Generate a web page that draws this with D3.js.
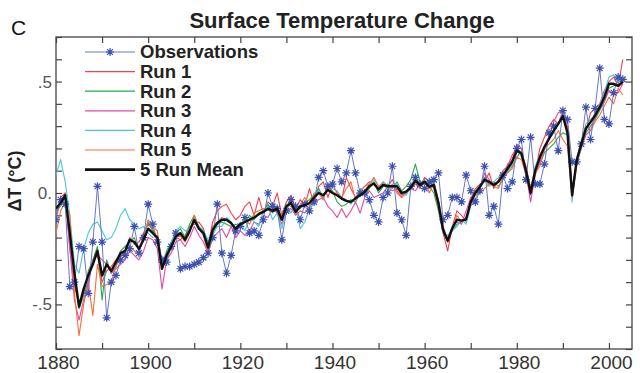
<!DOCTYPE html>
<html>
<head>
<meta charset="utf-8">
<script src="https://cdn.jsdelivr.net/npm/d3@7"></script>
<style>
  html, body { margin: 0; padding: 0; background: #fff; }
  svg { display: block; font-family: "Liberation Sans", Arial, sans-serif; }
</style>
</head>
<body>
<svg id="chart" width="640" height="373"></svg>
<script>
// years 1880..2003, one value per year
const years = d3.range(1880, 2004);

const observations = [
  -0.12, -0.03, -0.05, -0.42, -0.40, -0.24, -0.25, -0.45, -0.22, 0.03,
  -0.22, -0.56, -0.40, -0.37, -0.30, -0.28, -0.25, -0.15, -0.27, -0.20,
  -0.05, -0.14, -0.22, -0.30, -0.31, -0.24, -0.18, -0.34, -0.33, -0.33,
  -0.32, -0.31, -0.29, -0.27, -0.20, -0.05, -0.27, -0.36, -0.28, -0.17,
  -0.15, -0.11, -0.18, -0.17, -0.19, -0.12, 0.00, -0.06, -0.07, -0.21,
  -0.08, -0.03, -0.06, -0.12, -0.05, -0.08, -0.04, 0.07, 0.10, 0.03,
  0.04, 0.11, 0.05, 0.09, 0.19, 0.09, 0.00, 0.00, -0.03, -0.10,
  -0.13, -0.02, 0.00, 0.12, -0.09, -0.12, -0.19, 0.03, 0.07, 0.04,
  0.02, 0.05, 0.06, 0.09, -0.12, -0.10, -0.02, -0.02, -0.04, 0.08,
  0.01, -0.04, 0.01, 0.12, -0.10, -0.06, -0.14, 0.08, 0.02, 0.05,
  0.20, 0.24, 0.06, 0.25, 0.04, 0.04, 0.13, 0.27, 0.30, 0.19,
  0.37, 0.33, 0.14, 0.14, 0.22, 0.385, 0.24, 0.38, 0.56, 0.33,
  0.31, 0.45, 0.52, 0.51
];

const run1 = [
  -0.10, -0.02, 0.00, -0.25, -0.42, -0.50, -0.45, -0.40, -0.30, -0.28,
  -0.40, -0.35, -0.33, -0.30, -0.28, -0.27, -0.20, -0.23, -0.22, -0.18,
  -0.14, -0.16, -0.22, -0.30, -0.30, -0.22, -0.20, -0.21, -0.19, -0.15,
  -0.14, -0.13, -0.16, -0.24, -0.13, -0.08, -0.06, -0.05, -0.09, -0.12,
  -0.10, -0.06, -0.04, -0.10, -0.02, -0.09, -0.04, -0.06, 0.00, -0.10,
  -0.04, -0.01, -0.07, -0.03, -0.06, 0.02, -0.05, 0.03, 0.05, -0.02,
  0.04, 0.00, -0.03, 0.07, 0.02, -0.02, 0.01, 0.03, 0.05, 0.04,
  0.02, 0.05, 0.03, 0.06, 0.01, -0.02, 0.00, 0.02, 0.04, 0.03,
  0.07, 0.05, 0.02, -0.06, -0.18, -0.26, -0.15, -0.08, -0.10, -0.13,
  -0.03, 0.02, 0.04, 0.05, 0.09, 0.02, 0.06, 0.10, 0.12, 0.17,
  0.20, 0.18, 0.12, 0.02, 0.09, 0.20, 0.25, 0.30, 0.33, 0.31,
  0.37, 0.28, 0.00, 0.15, 0.23, 0.28, 0.36, 0.38, 0.40, 0.46,
  0.50, 0.52, 0.48, 0.60
];

const run2 = [
  -0.08, -0.06, -0.02, -0.20, -0.38, -0.52, -0.46, -0.35, -0.30, -0.24,
  -0.48, -0.30, -0.36, -0.33, -0.26, -0.24, -0.22, -0.20, -0.26, -0.20,
  -0.13, -0.17, -0.20, -0.33, -0.26, -0.22, -0.18, -0.16, -0.20, -0.14,
  -0.10, -0.15, -0.17, -0.22, -0.18, -0.14, -0.13, -0.14, -0.15, -0.14,
  -0.15, -0.13, -0.10, -0.12, -0.09, -0.08, -0.05, -0.09, -0.06, -0.11,
  -0.05, -0.06, -0.08, -0.07, -0.04, -0.03, -0.01, 0.02, -0.02, 0.03,
  0.01, -0.04, -0.06, -0.05, -0.03, -0.04, 0.00, -0.01, 0.02, 0.05,
  0.00, 0.03, 0.04, 0.02, 0.05, 0.01, 0.03, 0.06, 0.13, 0.05,
  0.04, 0.03, 0.00, -0.08, -0.18, -0.20, -0.17, -0.14, -0.13, -0.11,
  -0.05, 0.01, 0.03, 0.07, 0.04, 0.05, 0.03, 0.06, 0.10, 0.12,
  0.16, 0.19, 0.08, -0.01, 0.11, 0.13, 0.18, 0.20, 0.22, 0.25,
  0.27, 0.26, 0.02, 0.13, 0.20, 0.27, 0.30, 0.33, 0.37, 0.41,
  0.47, 0.48, 0.50, 0.51
];

const run3 = [
  -0.06, -0.05, 0.00, -0.25, -0.48, -0.57, -0.48, -0.40, -0.30, -0.28,
  -0.30, -0.32, -0.36, -0.34, -0.32, -0.30, -0.26, -0.28, -0.30, -0.26,
  -0.20, -0.21, -0.25, -0.43, -0.30, -0.27, -0.22, -0.21, -0.24, -0.20,
  -0.15, -0.19, -0.22, -0.27, -0.20, -0.18, -0.16, -0.20, -0.15, -0.20,
  -0.17, -0.19, -0.17, -0.13, -0.14, -0.10, -0.11, -0.07, -0.09, -0.14,
  -0.08, -0.07, -0.10, -0.08, -0.09, -0.06, -0.04, -0.03, -0.02, -0.06,
  -0.08, -0.11, -0.07, -0.11, -0.08, -0.04, -0.09, -0.02, 0.01, -0.02,
  -0.01, 0.00, 0.03, 0.01, 0.02, -0.01, 0.00, 0.02, 0.01, 0.04,
  0.02, 0.04, 0.05, -0.03, -0.15, -0.21, -0.15, -0.13, -0.14, -0.08,
  -0.02, 0.00, 0.02, 0.09, 0.06, 0.03, 0.05, 0.06, 0.13, 0.15,
  0.22, 0.20, 0.09, -0.04, 0.08, 0.14, 0.19, 0.25, 0.32, 0.36,
  0.37, 0.30, 0.01, 0.14, 0.20, 0.26, 0.28, 0.34, 0.38, 0.41,
  0.46, 0.44, 0.45, 0.49
];

const run4 = [
  0.08, 0.15, 0.05, -0.10, -0.32, -0.36, -0.25, -0.18, -0.14, -0.13,
  -0.17, -0.21, -0.20, -0.16, -0.10, -0.07, -0.12, -0.14, -0.16, -0.15,
  -0.18, -0.20, -0.19, -0.30, -0.27, -0.22, -0.17, -0.15, -0.17, -0.16,
  -0.12, -0.15, -0.17, -0.21, -0.19, -0.15, -0.15, -0.11, -0.13, -0.18,
  -0.13, -0.17, -0.11, -0.13, -0.15, -0.08, -0.06, -0.12, -0.09, -0.16,
  -0.07, -0.09, -0.05, -0.16, -0.13, -0.07, -0.02, 0.01, -0.03, 0.04,
  0.02, 0.01, -0.02, -0.03, -0.05, -0.02, 0.02, 0.01, 0.04, 0.06,
  0.03, 0.05, 0.01, 0.03, 0.04, 0.00, -0.01, 0.03, 0.07, 0.04,
  0.06, 0.02, 0.05, -0.04, -0.18, -0.19, -0.17, -0.15, -0.12, -0.14,
  -0.06, -0.03, 0.03, 0.06, 0.03, 0.05, 0.07, 0.09, 0.09, 0.13,
  0.21, 0.16, 0.11, 0.02, 0.12, 0.17, 0.21, 0.24, 0.27, 0.31,
  0.36, 0.27, -0.04, 0.16, 0.23, 0.31, 0.33, 0.35, 0.40, 0.45,
  0.52, 0.53, 0.50, 0.52
];

const run5 = [
  -0.18, -0.08, -0.04, -0.10, -0.45, -0.64, -0.50, -0.40, -0.55, -0.32,
  -0.42, -0.41, -0.40, -0.33, -0.29, -0.26, -0.24, -0.26, -0.27, -0.20,
  -0.12, -0.15, -0.17, -0.33, -0.27, -0.25, -0.20, -0.19, -0.22, -0.18,
  -0.10, -0.16, -0.19, -0.27, -0.15, -0.13, -0.11, -0.12, -0.14, -0.17,
  -0.15, -0.12, -0.14, -0.09, -0.08, -0.07, -0.08, -0.06, -0.09, -0.10,
  -0.06, -0.03, -0.10, -0.05, -0.02, -0.06, 0.00, 0.00, -0.03, 0.04,
  0.00, 0.00, -0.02, 0.02, 0.05, -0.03, 0.01, 0.03, 0.04, 0.07,
  0.03, 0.04, 0.02, 0.04, 0.00, -0.02, 0.01, 0.03, 0.04, 0.02,
  0.06, 0.00, 0.04, -0.05, -0.17, -0.22, -0.16, -0.10, -0.13, -0.12,
  -0.05, -0.01, 0.00, 0.02, 0.04, 0.03, 0.02, 0.07, 0.09, 0.11,
  0.16, 0.15, 0.08, 0.03, 0.09, 0.12, 0.20, 0.22, 0.24, 0.28,
  0.24, 0.21, -0.02, 0.12, 0.22, 0.30, 0.28, 0.32, 0.35, 0.39,
  0.43, 0.40, 0.47, 0.44
];

const runMean = [
  -0.07, -0.045, -0.01, -0.18, -0.36, -0.51, -0.43, -0.37, -0.32, -0.26,
  -0.37, -0.32, -0.35, -0.31, -0.27, -0.26, -0.21, -0.22, -0.25, -0.21,
  -0.16, -0.18, -0.20, -0.34, -0.28, -0.24, -0.195, -0.18, -0.21, -0.17,
  -0.12, -0.16, -0.18, -0.245, -0.165, -0.135, -0.12, -0.12, -0.135, -0.16,
  -0.14, -0.13, -0.12, -0.11, -0.095, -0.085, -0.07, -0.08, -0.07, -0.12,
  -0.06, -0.045, -0.085, -0.06, -0.055, -0.045, -0.02, 0.00, -0.01, 0.015,
  0.00, -0.01, -0.025, -0.035, -0.04, -0.024, -0.01, 0.006, 0.03, 0.043,
  0.016, 0.036, 0.03, 0.03, 0.03, 0.00, 0.006, 0.025, 0.055, 0.036,
  0.05, 0.028, 0.036, -0.046, -0.165, -0.215, -0.158, -0.12, -0.124, -0.118,
  -0.04, 0.00, 0.028, 0.06, 0.05, 0.036, 0.05, 0.08, 0.11, 0.14,
  0.19, 0.177, 0.10, 0.00, 0.10, 0.16, 0.207, 0.244, 0.28, 0.31,
  0.345, 0.27, -0.01, 0.147, 0.22, 0.29, 0.318, 0.348, 0.385, 0.43,
  0.49, 0.49, 0.48, 0.50
];

const legendNames  = ['Observations', 'Run 1', 'Run 2', 'Run 3', 'Run 4', 'Run 5', '5 Run Mean'];
const legendColors = ['#5468c0', '#f0404c', '#2aa84c', '#e04aa8', '#48c6dc', '#f56e40', '#111111'];

const xTickVals  = d3.range(1880, 2001, 10);
const xLabelVals = [1880, 1900, 1920, 1940, 1960, 1980, 2000];
const yTickVals  = d3.range(-7, 8).map(d => d / 10);
const yLabelVals = [-0.5, 0, 0.5];
const yLabelText = ['-.5', '0.', '.5'];

const W = 640, H = 373;
const m = { left: 56, right: 8, top: 37, bottom: 24 };

const svg = d3.select('#chart').attr('viewBox', `0 0 ${W} ${H}`);

const x = d3.scaleLinear().domain([1880, 2005]).range([m.left, W - m.right]);
const y = d3.scaleLinear().domain([-0.7, 0.7]).range([H - m.bottom, m.top]);

svg.append('defs').append('clipPath').attr('id', 'plotclip')
  .append('rect')
  .attr('x', x.range()[0]).attr('y', y.range()[1])
  .attr('width', x.range()[1] - x.range()[0])
  .attr('height', y.range()[0] - y.range()[1]);

// axes (ticks point inward, frame drawn separately)
const tickLen = 6;
const axisStyle = g => {
  g.select('.domain').remove();
  g.selectAll('.tick line').attr('stroke', '#444').attr('stroke-width', 1.2);
};

svg.append('g')
  .attr('transform', `translate(0,${y.range()[0]})`)
  .call(d3.axisBottom(x).tickValues(xTickVals).tickSize(-tickLen).tickPadding(7)
    .tickFormat(d => xLabelVals.includes(d) ? d : ''))
  .call(axisStyle)
  .call(g => g.selectAll('text')
    .attr('font-size', 19).attr('fill', '#333')
    .attr('font-family', '"Liberation Sans", Arial, sans-serif')
    .attr('dx', 2));

svg.append('g')
  .attr('transform', `translate(0,${y.range()[1]})`)
  .call(d3.axisTop(x).tickValues(xTickVals).tickSize(-tickLen).tickFormat(''))
  .call(axisStyle);

svg.append('g')
  .attr('transform', `translate(${x.range()[0]},0)`)
  .call(d3.axisLeft(y).tickValues(yTickVals).tickSize(-tickLen).tickPadding(4)
    .tickFormat(d => {
      const i = yLabelVals.findIndex(v => Math.abs(v - d) < 1e-9);
      return i >= 0 ? yLabelText[i] : '';
    }))
  .call(axisStyle)
  .call(g => g.selectAll('text')
    .attr('font-size', 17).attr('fill', '#555')
    .attr('font-family', '"Liberation Sans", Arial, sans-serif'));

svg.append('g')
  .attr('transform', `translate(${x.range()[1]},0)`)
  .call(d3.axisRight(y).tickValues(yTickVals).tickSize(-tickLen).tickFormat(''))
  .call(axisStyle);

svg.append('rect')
  .attr('x', x.range()[0]).attr('y', y.range()[1])
  .attr('width', x.range()[1] - x.range()[0])
  .attr('height', y.range()[0] - y.range()[1])
  .attr('fill', 'none').attr('stroke', '#444').attr('stroke-width', 1.3);

// lines
const line = d3.line().x((d, i) => x(years[i])).y(d => y(d));
const plot = svg.append('g').attr('clip-path', 'url(#plotclip)');

const runs = [run1, run2, run3, run4, run5];
runs.forEach((r, k) => {
  plot.append('path').datum(r)
    .attr('fill', 'none').attr('stroke', legendColors[k + 1])
    .attr('stroke-width', 1.1).attr('stroke-linejoin', 'round')
    .attr('d', line);
});

const star = r => {
  const d = r * 0.72;
  return `M${-r},0H${r}M0,${-r}V${r}M${-d},${-d}L${d},${d}M${-d},${d}L${d},${-d}`;
};

plot.append('path').datum(observations)
  .attr('fill', 'none').attr('stroke', '#6678c8')
  .attr('stroke-width', 1).attr('d', line);

plot.selectAll('.obs').data(observations).join('path')
  .attr('class', 'obs')
  .attr('transform', (d, i) => `translate(${x(years[i])},${y(d)})`)
  .attr('d', star(4))
  .attr('stroke', '#3c50b0').attr('stroke-width', 1.2).attr('fill', 'none');

plot.append('path').datum(runMean)
  .attr('fill', 'none').attr('stroke', legendColors[6])
  .attr('stroke-width', 2.4).attr('stroke-linejoin', 'round')
  .attr('d', line);

// legend
const legend = svg.append('g').attr('transform', 'translate(85,52)');
const rowH = 19.6;
legendNames.forEach((name, i) => {
  const g = legend.append('g').attr('transform', `translate(0,${i * rowH})`);
  g.append('line').attr('x1', 0).attr('x2', 50).attr('y1', 0).attr('y2', 0)
    .attr('stroke', i === 0 ? '#6678c8' : legendColors[i])
    .attr('stroke-width', i === 6 ? 2.6 : 1.2);
  if (i === 0) {
    g.append('path').attr('transform', 'translate(25,0)').attr('d', star(4))
      .attr('stroke', '#3c50b0').attr('stroke-width', 1.2).attr('fill', 'none');
  }
  g.append('text').attr('x', 55).attr('y', 0).attr('dy', '0.35em')
    .attr('font-size', 18.5).attr('font-weight', 'bold').attr('fill', '#222')
    .text(name);
});

// titles
svg.append('text').attr('x', 342).attr('y', 28).attr('text-anchor', 'middle')
  .attr('font-size', 22).attr('font-weight', 'bold').attr('fill', '#222')
  .text('Surface Temperature Change');

svg.append('text').attr('x', 11).attr('y', 35)
  .attr('font-size', 21).attr('fill', '#111')
  .text('C');

svg.append('text')
  .attr('transform', `translate(21,${(y.range()[0] + y.range()[1]) / 2 - 12}) rotate(-90)`)
  .attr('text-anchor', 'middle')
  .attr('font-size', 18).attr('font-weight', 'bold').attr('fill', '#222')
  .text('ΔT (°C)');
</script>
</body>
</html>
